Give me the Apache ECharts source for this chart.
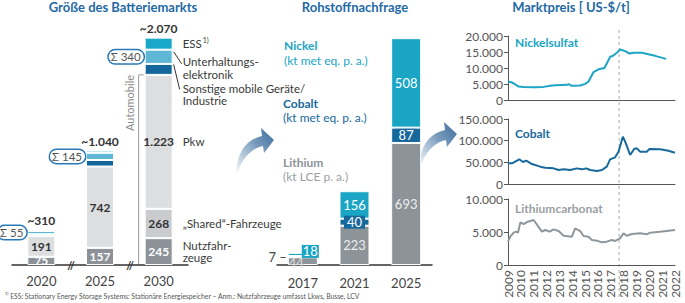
<!DOCTYPE html>
<html>
<head>
<meta charset="utf-8">
<script src="https://cdn.jsdelivr.net/npm/echarts@6/dist/echarts.min.js"></script>
<style>
  html, body { margin: 0; padding: 0; background: #fff; }
  #chart { width: 685px; height: 303px; }
</style>
</head>
<body>
<div id="chart"></div>
<script>
// Größe des Batteriemarkts (GWh)
const marketYears = ['2020', '2025', '2030'];
const nutzfahrzeuge = [75, 157, 245];
const sharedFahrzeuge = [0, 0, 268];
const pkw = [191, 742, 1223];
const sonstigeGeraete = [15, 60, 100];
const unterhaltung = [30, 65, 130];
const ess = [10, 20, 110];
const marketTotals = ['~310', '~1.040', '~2.070'];
const stationarySums = [55, 145, 340];

// Rohstoffnachfrage
const rawYears = ['2017', '2021', '2025'];
const lithium = [44, 223, 693];
const cobalt = [7, 40, 87];
const nickel = [18, 156, 508];

// Marktpreis [US-$/t] as [Jahr, Preis]
const nickelPrices = [[2009.0, 5790], [2009.31, 5480], [2009.83, 4210], [2010.22, 4100], [2011.0, 4000],
  [2011.77, 4100], [2012.29, 4420], [2012.68, 4630], [2013.59, 4740], [2013.72, 4950], [2013.97, 4420],
  [2014.62, 4530], [2015.01, 5050], [2015.27, 5790], [2015.66, 8740], [2016.05, 9580], [2016.51, 10000],
  [2016.95, 13480], [2017.21, 13900], [2017.47, 14740], [2017.73, 15800], [2018.12, 15270], [2018.46, 14530],
  [2018.77, 14740], [2019.41, 14740], [2019.93, 14320], [2020.45, 13800], [2021.31, 12850]];
const cobaltPrices = [[2009.0, 47700], [2009.31, 47700], [2009.88, 57000], [2010.17, 50800], [2010.42, 53800],
  [2010.87, 46100], [2011.51, 40000], [2011.9, 37700], [2012.55, 36100], [2012.94, 32300], [2013.33, 33800],
  [2013.84, 32300], [2014.36, 36100], [2014.75, 33800], [2015.09, 36100], [2015.4, 32300], [2015.92, 30000],
  [2016.31, 32300], [2016.69, 40000], [2016.95, 56900], [2017.34, 61500], [2017.6, 74600], [2017.94, 109200],
  [2018.12, 97700], [2018.51, 66900], [2018.82, 80700], [2019.03, 82300], [2019.28, 74600], [2019.8, 74600],
  [2020.01, 80700], [2020.84, 80000], [2021.49, 76900], [2022.0, 72300]];
const lithiumPrices = [[2009.0, 3540], [2009.18, 4290], [2009.44, 4900], [2009.65, 5050], [2009.78, 4900],
  [2009.96, 6460], [2010.22, 6210], [2010.53, 6560], [2011.0, 6820], [2011.64, 5050], [2011.9, 5300],
  [2012.24, 5050], [2012.55, 5400], [2012.94, 5150], [2013.33, 4440], [2013.97, 4290], [2014.23, 5550],
  [2014.62, 5150], [2014.88, 4390], [2015.27, 4290], [2015.53, 3790], [2015.92, 3690], [2016.31, 3430],
  [2016.69, 3540], [2017.08, 3790], [2017.34, 3640], [2017.73, 4040], [2017.99, 4800], [2018.25, 4440],
  [2018.64, 4700], [2019.28, 4800], [2019.8, 4650], [2020.06, 4900], [2020.84, 5050], [2022.0, 5300]];
const markYear = 2017.65;

const font = 'Lato, "Open Sans", sans-serif';
const blue = '#1f6aa5';
const cNickel = '#1ba5c5', cCobalt = '#17699c', cLithium = '#8c9399';
const cEss = '#19a8c8', cUnterh = '#5db7d5', cSonst = '#13669a';
const cPkw = '#dddee0', cShared = '#c9cbce', cNutz = '#8c9297';
const de = v => String(v).replace(/\B(?=(\d{3})+(?!\d))/g, '.');

// market bars (real stack) + transparent overlay stack for the 2030 texts
function marketBar(data, color, label) {
  return {
    type: 'bar', xAxisIndex: 0, yAxisIndex: 0, stack: 'm', barWidth: 28, barGap: '-100%',
    data: data, itemStyle: { color: color, borderColor: '#fff', borderWidth: 1 },
    label: Object.assign({ show: true, fontFamily: font, fontSize: 12 }, label || { show: false })
  };
}
function sideText(data, text, offsetY) {
  return {
    type: 'bar', xAxisIndex: 0, yAxisIndex: 0, stack: 'o', barWidth: 28, barGap: '-100%', silent: true,
    data: data, itemStyle: { color: 'rgba(0,0,0,0)' },
    label: {
      show: true, position: 'right', distance: 10, offset: [0, offsetY || 0],
      fontFamily: font, fontSize: 11.5, lineHeight: 12.5, color: '#3a3a3a',
      formatter: p => p.dataIndex === 2 ? text : '',
      rich: { sup: { fontSize: 7, color: '#3a3a3a', padding: [0, 0, 7, 1] } }
    }
  };
}
const valueLabel = (color) => ({
  position: 'inside', color: color, fontWeight: 'bold',
  formatter: p => p.value ? de(p.value) : ''
});

function rawBar(data, color, label, first) {
  return {
    type: 'bar', xAxisIndex: 1, yAxisIndex: 1, stack: 'r', barWidth: 30,
    itemStyle: { color: color, borderColor: '#fff', borderWidth: 1 },
    label: Object.assign({ show: true, position: 'inside', fontFamily: font, fontSize: 13 }, label),
    data: data.map((v, i) => i === 0 ? { value: v, label: first } : v)
  };
}

function priceLine(idx, data, color) {
  return {
    type: 'line', xAxisIndex: idx, yAxisIndex: idx, data: data, showSymbol: false,
    lineStyle: { color: color, width: 2 }, itemStyle: { color: color }
  };
}
function priceY(idx, max, interval) {
  return {
    gridIndex: idx, type: 'value', min: 0, max: max, interval: interval,
    axisLine: { show: true, lineStyle: { color: '#555' } },
    axisTick: { show: true, length: 4, lineStyle: { color: '#555' } },
    splitLine: { show: false },
    axisLabel: { fontFamily: font, fontSize: 12, color: '#555', margin: 5, formatter: v => de(v) }
  };
}
function priceX(idx, labels) {
  return {
    gridIndex: idx, type: 'value', min: 2009, max: 2022, interval: 1,
    axisLine: { show: true, onZero: false, lineStyle: { color: '#555' } },
    axisTick: { show: false }, splitLine: { show: false },
    axisLabel: { show: labels, rotate: 90, fontFamily: font, fontSize: 12, color: '#555', margin: 5, formatter: v => String(v) }
  };
}

const option = {
  animation: false,
  grid: [
    { left: 12, width: 176, top: 35, height: 230 },
    { left: 277, width: 155, top: 35, height: 230 },
    { left: 508, right: 10, top: 36, height: 64 },
    { left: 508, right: 10, top: 119, height: 65 },
    { left: 508, right: 10, top: 199, height: 66 }
  ],
  xAxis: [
    { gridIndex: 0, type: 'category', data: marketYears,
      axisLine: { lineStyle: { color: '#333', width: 1.5 } }, axisTick: { show: false },
      axisLabel: { fontFamily: font, fontSize: 13, color: '#444', margin: 9 } },
    { gridIndex: 1, type: 'category', data: rawYears,
      axisLine: { lineStyle: { color: '#333', width: 1.5 } }, axisTick: { show: false },
      axisLabel: { fontFamily: font, fontSize: 13, color: '#444', margin: 11 } },
    priceX(2, false), priceX(3, false), priceX(4, true)
  ],
  yAxis: [
    { gridIndex: 0, type: 'value', min: 0, max: 2100, show: false },
    { gridIndex: 1, type: 'value', min: 0, max: 1306, show: false },
    priceY(2, 20000, 5000), priceY(3, 150000, 50000), priceY(4, 10000, 5000)
  ],
  series: [
    marketBar(nutzfahrzeuge, cNutz, valueLabel('#fff')),
    marketBar(sharedFahrzeuge, cShared, valueLabel('#333')),
    marketBar(pkw, cPkw, valueLabel('#333')),
    marketBar(sonstigeGeraete, cSonst),
    marketBar(unterhaltung, cUnterh, {
      position: 'left', distance: 1, color: '#555', fontSize: 11.5,
      backgroundColor: '#fff', borderColor: '#2878b5', borderWidth: 1.5, borderRadius: 8, padding: [1, 3, 0, 2],
      formatter: p => 'Σ ' + stationarySums[p.dataIndex]
    }),
    marketBar(ess, cEss, {
      position: 'top', distance: 3, color: '#333', fontWeight: 'bold',
      formatter: p => marketTotals[p.dataIndex]
    }),
    sideText(nutzfahrzeuge, 'Nutzfahr-\nzeuge'),
    sideText(sharedFahrzeuge, '„Shared“-Fahrzeuge'),
    sideText(pkw, 'Pkw'),
    sideText(sonstigeGeraete, 'Sonstige mobile Geräte/\nIndustrie', 25),
    sideText(unterhaltung, 'Unterhaltungs-\nelektronik', 11),
    sideText(ess, 'ESS{sup|1)}'),

    rawBar(lithium, cLithium, { color: '#eeeeee' },
      { position: 'insideLeft', distance: 1, offset: [0, 2], color: '#dcdcdc' }),
    rawBar(cobalt, cCobalt, { color: '#fff', backgroundColor: cCobalt, padding: [0, 3] },
      { position: 'left', distance: 1, color: '#444', backgroundColor: 'transparent', padding: 0, formatter: '7 –' }),
    rawBar(nickel, cNickel, { color: '#fff' },
      { position: 'insideRight', distance: 0, offset: [1, -3], color: '#fff', backgroundColor: cNickel, padding: [0, 1] }),

    priceLine(2, nickelPrices, cNickel),
    priceLine(3, cobaltPrices, cCobalt),
    priceLine(4, lithiumPrices, '#8f969c')
  ]
};

const chart = echarts.init(document.getElementById('chart'), null, { renderer: 'svg' });
chart.setOption(option);

const px = (g, x, y) => chart.convertToPixel({ xAxisIndex: g, yAxisIndex: g }, [x, y]);
const carTop = nutzfahrzeuge[2] + sharedFahrzeuge[2] + pkw[2];
const c30 = px(0, 2, carTop);
const barRight = c30[0] + 14;
const yBase = px(0, 2, 0)[1];
const yUnterh = px(0, 2, carTop + sonstigeGeraete[2] + unterhaltung[2] * 0.85)[1];
const ySonst = px(0, 2, carTop + sonstigeGeraete[2] * 0.95)[1];
const markX = px(4, markYear, 0)[0];

function txt(x, y, text, opt) {
  return { type: 'text', x: x, y: y, silent: true, style: Object.assign({
    text: text, fontFamily: font, fontSize: 12, fill: '#444', verticalAlign: 'middle' }, opt || {}) };
}
function line(x1, y1, x2, y2, stroke, dash) {
  return { type: 'line', silent: true, shape: { x1, y1, x2, y2 },
    style: { stroke: stroke, lineWidth: 1, lineDash: dash || null } };
}
// curved arrow outline, sampled from two quadratic curves
function quad(p0, c, p1) {
  const pts = [];
  for (let t = 0; t <= 1.001; t += 0.1) {
    const u = 1 - t;
    pts.push([u * u * p0[0] + 2 * u * t * c[0] + t * t * p1[0], u * u * p0[1] + 2 * u * t * c[1] + t * t * p1[1]]);
  }
  return pts;
}
const arrowShape = quad([0, 45], [0, 10], [26, 4])
  .concat([[25, -4], [38, 8], [28, 21]])
  .concat(quad([27, 14], [8, 18], [0, 45]));
function arrow(x, y) {
  return { type: 'polygon', x: x, y: y, silent: true,
    shape: { points: arrowShape },
    style: { fill: { type: 'linear', x: 0, y: 1, x2: 1, y2: 0, colorStops: [
      { offset: 0, color: 'rgba(61,111,159,0)' }, { offset: 0.6, color: 'rgba(61,111,159,0.7)' },
      { offset: 1, color: '#3b6c9c' }] } } };
}
const bold = (color, size) => ({ fill: color, fontWeight: 'bold', fontSize: size || 12 });

chart.setOption({
  graphic: [
    txt(123, 7, 'Größe des Batteriemarkts', Object.assign(bold(blue, 13), { align: 'center' })),
    txt(355, 7, 'Rohstoffnachfrage', Object.assign(bold(blue, 13), { align: 'center' })),
    txt(571, 7, 'Marktpreis [ US-$/t]', Object.assign(bold(blue, 13), { align: 'center' })),

    { type: 'polyline', silent: true,
      shape: { points: [[barRight - 28 - 1, c30[1]], [barRight - 34, c30[1]], [barRight - 34, yBase]] },
      style: { stroke: '#999', lineWidth: 1, fill: null } },
    { type: 'text', x: 129, y: 103, rotation: Math.PI / 2, silent: true,
      style: { text: 'Automobile', fontFamily: font, fontSize: 11, fill: '#8a8a8a', align: 'center', verticalAlign: 'middle' } },
    line(barRight + 1, yUnterh, barRight + 9, yUnterh + 12, '#333'),
    line(barRight + 1, ySonst, barRight + 7, ySonst + 25, '#333'),
    txt(71, yBase, '//', { align: 'center', fontSize: 11, fill: '#333', fontWeight: 'bold' }),
    txt(130, yBase, '//', { align: 'center', fontSize: 11, fill: '#333', fontWeight: 'bold' }),

    txt(284, 45, 'Nickel', bold(cNickel)),
    txt(284, 60, '(kt met eq. p. a.)', { fill: cNickel }),
    txt(283, 103, 'Cobalt', bold(cCobalt)),
    txt(283, 117, '(kt met eq. p. a.)', { fill: cCobalt }),
    txt(283, 162, 'Lithium', bold(cLithium)),
    txt(283, 176, '(kt LCE p. a.)', { fill: '#9aa0a5' }),

    txt(515, 42, 'Nickelsulfat', bold(cNickel)),
    txt(515, 133, 'Cobalt', bold(cCobalt)),
    txt(515, 208, 'Lithiumcarbonat', bold('#9aa0a5')),
    line(markX, 30, markX, 300, '#aaa', [3, 3]),

    arrow(236, 132),
    arrow(419, 126),

    { type: 'text', x: 5, y: 296, scaleX: 0.8, silent: true,
      style: { text: '¹⁾ ESS: Stationary Energy Storage Systems: Stationäre Energiespeicher – Anm.: Nutzfahrzeuge umfasst Lkws, Busse, LCV',
        fontFamily: font, fontSize: 8.5, fill: '#555', verticalAlign: 'middle' } }
  ]
});
</script>
</body>
</html>
